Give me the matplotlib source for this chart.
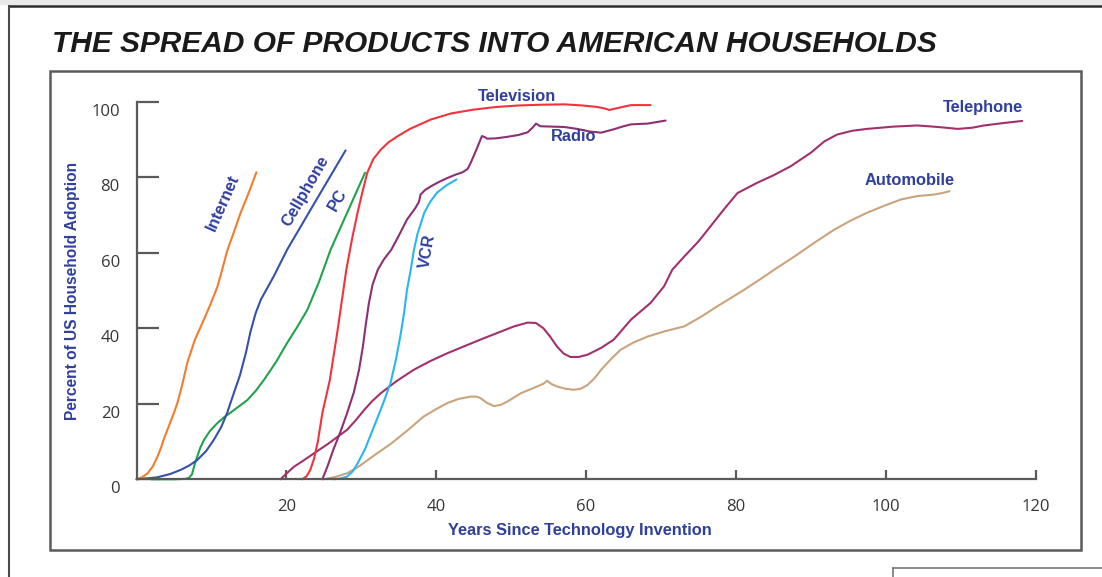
import matplotlib
matplotlib.use("Agg")
import matplotlib.pyplot as plt
from matplotlib.transforms import ScaledTranslation
from matplotlib.lines import Line2D
from matplotlib.patches import Rectangle

# ---------------- data ----------------
internet_x = [0, 0.8, 1.5, 2.2, 2.8, 3.3, 3.6, 4.2, 5.0, 5.5, 6.1, 6.8, 7.8, 9.0, 9.9, 10.8, 11.5, 12.1,
              13.0, 13.9, 15.0, 16.0]
internet_y = [0, 0.6, 1.6, 3.5, 6.0, 8.5, 10.4, 13.5, 17.6, 20.5, 25.0, 31.0, 37.0, 42.3, 46.5, 51.0, 56.0,
              60.5, 65.5, 70.6, 76.0, 81.3]

cell_x = [0, 2.7, 4.5, 5.9, 7.0, 8.1, 9.3, 10.3, 11.3, 12.1, 13.0, 13.8, 14.6, 15.2, 15.9, 16.6, 18.3,
          20.1, 24.0, 27.9]
cell_y = [0, 0.5, 1.4, 2.5, 3.6, 5.1, 7.5, 10.4, 13.8, 17.6, 22.9, 27.5, 33.5, 39.0, 44.0, 47.6, 53.7,
          60.8, 74.0, 87.1]

pc_x = [2, 5, 6.5, 7.0, 7.4, 7.7, 8.1, 8.5, 9.0, 9.8, 10.8, 11.6, 12.5, 13.6, 14.8, 15.9, 17.0, 18.6,
        20.1, 21.5, 22.8, 24.3, 25.9, 28.2, 30.5]
pc_y = [0, 0, 0.1, 0.4, 1.3, 3.5, 6.0, 8.3, 10.4, 12.8, 14.9, 16.3, 17.6, 19.2, 21.0, 23.4, 26.3, 31.0,
        36.1, 40.5, 44.9, 52.0, 60.8, 71.0, 81.2]

tv_x = [22.1, 22.7, 23.2, 23.7, 24.2, 24.8, 25.8, 26.8, 28.0, 28.8, 29.5, 30.2, 30.8, 31.6, 32.6, 33.6,
        34.8, 36.5, 39.3, 42.0, 45.0, 48.0, 51.0, 54.0, 57.1, 59.5, 61.5, 62.5, 63.1, 63.7, 66.0, 68.6]
tv_y = [0, 0.8, 2.5, 5.5, 10.0, 17.5, 26.3, 39.0, 55.5, 64.0, 70.6, 76.5, 81.2, 84.8, 87.3, 89.2,
        90.8, 92.8, 95.3, 96.9, 97.9, 98.6, 99.0, 99.2, 99.3, 99.0, 98.6, 98.2, 97.8, 98.1, 99.1, 99.1]

radio_x = [24.8, 25.5, 26.3, 27.2, 28.1, 29.0, 29.7, 30.2, 30.6, 31.0, 31.5, 32.2, 33.0, 34.0, 35.0, 36.1,
           37.2, 37.7, 37.9, 38.5, 39.3, 40.4, 41.5, 42.6, 43.5, 44.2, 44.6, 45.4, 46.1, 46.5, 46.8, 48.0,
           49.5, 51.0, 52.2, 52.9, 53.3, 53.9, 55.5, 57.1, 58.8, 60.5, 62.0, 63.7, 65.0, 66.0, 68.2, 70.6]
radio_y = [0, 3.5, 8.0, 12.5, 17.5, 23.0, 29.0, 35.0, 41.0, 46.5, 51.5, 55.5, 58.2, 60.8, 64.5, 68.8,
           71.8, 73.5, 75.4, 76.6, 77.6, 78.8, 79.8, 80.7, 81.3, 82.2, 83.8, 87.5, 90.9, 90.6, 90.2, 90.3,
           90.7, 91.2, 91.9, 93.2, 94.2, 93.5, 93.4, 93.3, 92.8, 92.1, 91.8, 92.7, 93.5, 94.0, 94.2, 95.0]

phone_x = [19.2, 20.0, 21.0, 22.3, 23.7, 25.5, 27.2, 28.1, 29.2, 30.4, 31.5, 32.6, 34.7, 37.0, 39.2, 41.5,
           43.7, 45.9, 48.2, 50.4, 52.2, 53.3, 54.3, 55.2, 56.1, 57.0, 57.9, 59.0, 60.2, 62.0, 63.7, 66.0,
           68.6, 70.4, 71.5, 73.1, 75.0, 76.6, 78.4, 80.2, 82.8, 85.0, 87.3, 90.0, 91.8, 93.5, 95.5, 97.5,
           101.0, 104.2, 107.0, 109.6, 111.5, 113.1, 115.5, 118.2]
phone_y = [0, 1.5, 3.3, 5.0, 6.9, 9.3, 11.8, 13.1, 15.5, 18.4, 20.8, 22.8, 26.0, 29.0, 31.3, 33.4,
           35.2, 37.0, 38.8, 40.5, 41.5, 41.4, 40.0, 37.8, 35.2, 33.3, 32.4, 32.4, 33.0, 34.8, 37.0, 42.3,
           46.7, 51.1, 55.5, 59.0, 63.0, 67.0, 71.5, 75.8, 78.5, 80.5, 82.9, 86.5, 89.5, 91.3, 92.3, 92.8,
           93.4, 93.7, 93.3, 92.8, 93.1, 93.7, 94.3, 94.9]

vcr_x = [26.3, 27.2, 28.1, 28.9, 29.5, 30.5, 31.7, 32.8, 33.9, 34.6, 35.2, 35.7, 36.1, 36.6, 37.0, 37.5,
         38.4, 39.2, 40.1, 41.4, 42.7]
vcr_y = [0, 0.2, 0.7, 2.2, 4.2, 8.0, 14.0, 19.5, 25.5, 31.5, 37.8, 44.0, 50.2, 55.5, 60.5, 65.0,
         70.6, 73.5, 75.9, 77.9, 79.4]

auto_x = [25.0, 26.5, 28.1, 29.6, 31.2, 34.0, 36.2, 38.3, 40.0, 41.5, 43.0, 44.6, 45.4, 45.9, 46.8, 47.7,
          48.6, 49.5, 51.3, 53.5, 54.3, 54.8, 55.4, 56.1, 57.2, 58.4, 59.3, 60.2, 61.1, 62.0, 63.3, 64.6,
          66.3, 68.2, 70.5, 73.1, 75.3, 77.5, 79.3, 81.1, 83.1, 85.1, 87.8, 90.5, 93.1, 95.3, 97.5, 100.0,
          102.0, 104.2, 106.4, 107.5, 108.5]
auto_y = [0, 0.6, 1.6, 3.3, 5.6, 9.5, 13.0, 16.6, 18.6, 20.2, 21.3, 21.9, 21.9, 21.5, 20.2, 19.4,
          19.7, 20.6, 22.8, 24.6, 25.3, 26.1, 25.2, 24.6, 24.0, 23.7, 24.0, 25.0, 26.7, 29.0, 31.8, 34.3,
          36.2, 37.8, 39.2, 40.5, 43.0, 45.8, 48.0, 50.2, 52.8, 55.5, 59.0, 62.7, 66.1, 68.5, 70.6, 72.6,
          74.1, 75.0, 75.4, 75.8, 76.3]

x_ticks = [20, 40, 60, 80, 100, 120]
y_ticks = [0, 20, 40, 60, 80, 100]

title = "THE SPREAD OF PRODUCTS INTO AMERICAN HOUSEHOLDS"
x_label = "Years Since Technology Invention"
y_label = "Percent of US Household Adoption"

# ---------------- figure ----------------
W, H = 1102, 577
fig = plt.figure(figsize=(W / 100, H / 100), dpi=100)
fig.patch.set_facecolor("white")

def fx(px):
    return px / W

def fy(py):
    return 1 - py / H

# outer page frame
fig.patches.append(Rectangle((0, fy(5)), 1, 5 / H, transform=fig.transFigure,
                             facecolor="#e9e9e9", edgecolor="none", zorder=0))
fig.lines.append(Line2D([fx(9), 1], [fy(6), fy(6)], transform=fig.transFigure, color="#2b2b2b", lw=1.8))
fig.lines.append(Line2D([fx(9), fx(9)], [fy(6), 0], transform=fig.transFigure, color="#4a4a4a", lw=1.5))
# small box at bottom right
fig.lines.append(Line2D([fx(893), 1], [fy(568), fy(568)], transform=fig.transFigure, color="#777777", lw=1.2))
fig.lines.append(Line2D([fx(893), fx(893)], [fy(568), 0], transform=fig.transFigure, color="#777777", lw=1.2))
# inner chart box
fig.patches.append(Rectangle((fx(50), fy(550)), fx(1081) - fx(50), fy(71) - fy(550),
                             transform=fig.transFigure, facecolor="none", edgecolor="#5a5a5a", lw=1.8))

# title
fig.text(fx(52), fy(44), title, fontsize=21.5, fontweight="bold", fontstyle="italic",
         family="Liberation Sans", color="#1a1a1a", ha="left", va="center")

# axes
x0, x1 = 136.5, 1035.7
y0, y1 = 479.3, 101.7
ax = fig.add_axes([fx(x0), fy(y0), fx(x1) - fx(x0), fy(y1) - fy(y0)])
ax.set_xlim(0, 120)
ax.set_ylim(0, 100)
ax.patch.set_alpha(0)

axis_col = "#5a5a5a"
for s in ["top", "right"]:
    ax.spines[s].set_visible(False)
for s in ["left", "bottom"]:
    ax.spines[s].set_color(axis_col)
    ax.spines[s].set_linewidth(1.6)
ax.spines["left"].set_bounds(0, 100)
ax.spines["bottom"].set_bounds(0, 120)

ax.set_xticks(x_ticks)
ax.set_xticklabels([str(v) for v in x_ticks])
ax.set_yticks(y_ticks)
ax.set_yticklabels([str(v) for v in y_ticks])
ax.tick_params(axis="x", direction="in", length=6.5, width=1.6, color=axis_col, pad=14,
               labelsize=12, labelcolor="#363636")
ax.tick_params(axis="y", direction="in", length=15.5, width=1.6, color=axis_col, pad=12,
               labelsize=12, labelcolor="#363636")
for lbl in ax.get_xticklabels() + ax.get_yticklabels():
    lbl.set_family("Open Sans")
for lbl in ax.get_yticklabels():
    lbl.set_transform(lbl.get_transform() + ScaledTranslation(0, -0.08, fig.dpi_scale_trans))

lw = 1.5
series = [
    (auto_x, auto_y, "#c9a47c"),
    (phone_x, phone_y, "#a2306d"),
    (radio_x, radio_y, "#8d2f74"),
    (vcr_x, vcr_y, "#2bb5ee"),
    (tv_x, tv_y, "#f2333c"),
    (pc_x, pc_y, "#22a24b"),
    (cell_x, cell_y, "#3652a8"),
    (internet_x, internet_y, "#f47c2e"),
]
for xs, ys, c in series:
    ax.plot(xs, ys, color=c, lw=lw, clip_on=False, solid_capstyle="round", solid_joinstyle="round")

lab_col = "#2f3f9c"
lab_kw = dict(color=lab_col, fontsize=11.8, fontweight="bold", family="Liberation Sans",
              ha="center", va="center", rotation_mode="anchor")
ax.text(11.5, 73.3, "Internet", rotation=66, **lab_kw)
ax.text(22.6, 76.4, "Cellphone", rotation=60, **lab_kw)
ax.text(26.8, 74.0, "PC", rotation=60, **lab_kw)
ax.text(38.8, 60.3, "VCR", rotation=80, **lab_kw)
ax.text(50.8, 101.5, "Television", **lab_kw)
ax.text(58.4, 90.7, "Radio", **lab_kw)
ax.text(113.0, 98.4, "Telephone", **lab_kw)
ax.text(103.2, 79.0, "Automobile", **lab_kw)

fig.text(fx(580), fy(530), x_label, color=lab_col, fontsize=11.8, fontweight="bold",
         family="Liberation Sans", ha="center", va="center")
fig.text(fx(73), fy(291), y_label, color=lab_col, fontsize=11.2, fontweight="bold",
         family="Liberation Sans", ha="center", va="center", rotation=90)

fig.savefig("out.png", dpi=100)
